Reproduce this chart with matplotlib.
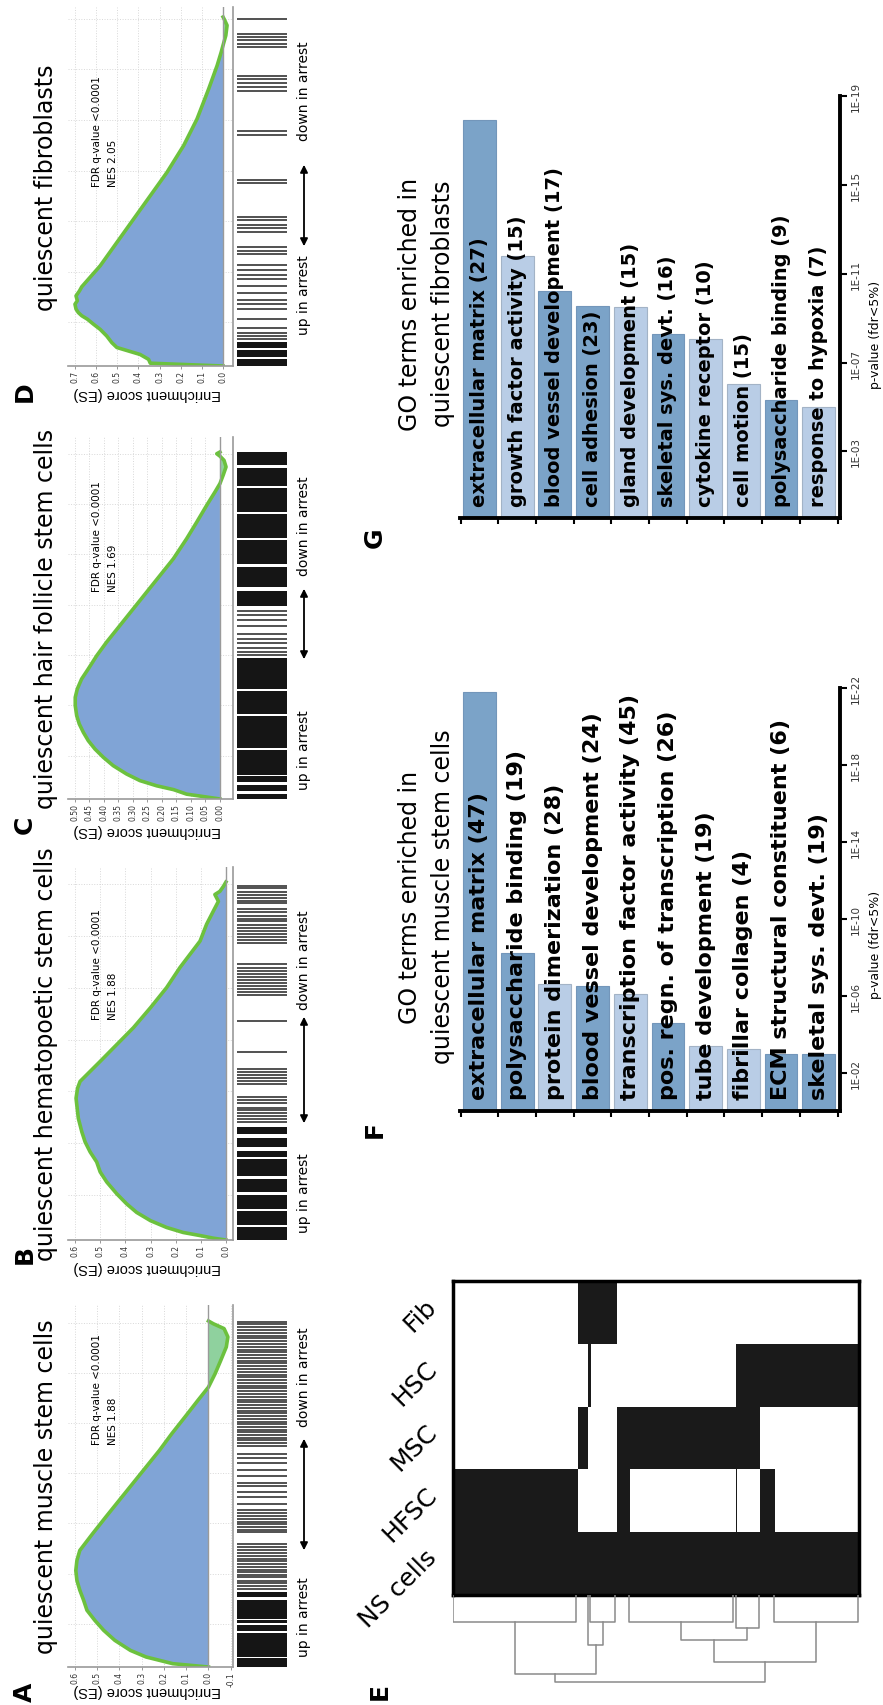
import numpy as np
import matplotlib
matplotlib.use("Agg")
import matplotlib.pyplot as plt
from matplotlib.colors import ListedColormap
from matplotlib.patches import FancyArrowPatch

plt.rcParams['font.family'] = ['DejaVu Sans']

# ---------------- data ----------------
# running enrichment score: rank position (% of ranked list) and ES
A_rank = [0, 0.96, 2.9, 4.8, 7.7, 10.6, 13.5, 16.4, 19.3, 22.2, 25.0, 27.9, 30.8, 33.7, 38.5, 43.4,
          48.2, 53.0, 57.8, 62.6, 67.4, 72.3, 77.1, 80.9, 84.8, 88.6, 92.5, 95.4, 97.8, 99.2, 100]
A_es = [0, 0.16, 0.28, 0.35, 0.42, 0.47, 0.51, 0.545, 0.56, 0.577, 0.59, 0.595, 0.59, 0.577, 0.52, 0.46,
        0.40, 0.34, 0.28, 0.22, 0.165, 0.105, 0.047, 0.0, -0.03, -0.055, -0.08, -0.087, -0.07, -0.022, 0.0]

B_rank = [0, 0.5, 1.2, 2.1, 3.5, 5.4, 7.7, 10.1, 12.9, 16.2, 19.0, 21.8, 24.6, 27.4, 30.2, 34.0, 37.7,
          39.6, 42.4, 44.3, 47.1, 49.9, 54.6, 59.3, 64.9, 70.5, 76.1, 79.8, 83.5, 88.2, 91.9, 94.6, 96.5,
          97.4, 98.8, 100]
B_es = [0, 0.05, 0.10, 0.17, 0.236, 0.30, 0.355, 0.395, 0.434, 0.474, 0.50, 0.514, 0.54, 0.56, 0.573,
        0.587, 0.593, 0.596, 0.59, 0.58, 0.54, 0.50, 0.434, 0.368, 0.30, 0.236, 0.183, 0.143, 0.103,
        0.077, 0.05, 0.03, 0.044, 0.024, 0.01, 0.0]

C_rank = [0, 0.7, 1.4, 2.7, 3.8, 5.3, 7.2, 9.6, 12.0, 14.4, 16.8, 19.2, 21.6, 24.0, 26.9, 29.3, 31.7,
          34.6, 37.5, 41.3, 45.2, 50.0, 54.8, 59.6, 64.4, 69.2, 75.0, 79.8, 84.6, 88.5, 90.9, 93.3,
          95.7, 97.6, 98.8, 99.5, 100]
C_es = [0, 0.057, 0.115, 0.16, 0.218, 0.276, 0.322, 0.368, 0.402, 0.431, 0.454, 0.471, 0.485, 0.494,
        0.499, 0.499, 0.492, 0.477, 0.454, 0.425, 0.391, 0.345, 0.299, 0.253, 0.207, 0.161, 0.115,
        0.080, 0.046, 0.017, 0.0, -0.011, -0.021, -0.014, 0.0, 0.011, 0.0]

D_rank = [0, 0.8, 1.9, 3.3, 4.3, 5.3, 6.7, 8.6, 10.5, 12.0, 13.4, 14.4, 15.3, 16.3, 17.7, 18.7, 20.1,
          21.5, 22.7, 28.7, 35.4, 42.1, 48.8, 55.5, 63.2, 70.8, 79.4, 86.1, 89.9, 91.9, 94.7, 97.6, 99.3, 100]
D_es = [0, 0.344, 0.352, 0.392, 0.447, 0.502, 0.526, 0.55, 0.581, 0.613, 0.641, 0.668, 0.684, 0.695,
        0.70, 0.689, 0.695, 0.679, 0.668, 0.581, 0.502, 0.423, 0.344, 0.265, 0.186, 0.123, 0.068,
        0.028, 0.009, 0.0, -0.013, -0.019, -0.006, 0.0]

# gene set hits (rank %): solid runs and single lines
A_blocks = [(0, 2.5), (3.0, 9.8), (10.5, 12.0), (12.6, 13.5), (14.0, 19.5), (20.2, 21.8)]
A_lines = [22.6, 23.5, 24.3, 25.0, 25.9, 26.6, 27.4, 28.1, 29.0, 29.8, 30.5, 31.3, 32.2, 33.0, 33.8,
           34.6, 35.5, 38.9, 39.7, 40.5, 41.2, 42.0, 42.9, 43.6, 44.5, 45.3, 47.0, 49.1, 50.6, 52.2,
           53.2, 55.2, 56.8, 59.0, 60.3, 61.5, 63.9, 64.7, 65.5, 66.3, 67.0, 67.8, 68.6, 69.4, 70.1,
           70.9, 71.8, 72.6, 73.4, 74.1, 74.9, 75.8, 76.6, 77.3, 78.1, 79.0, 79.8, 80.6, 81.3, 82.1,
           83.0, 83.8, 84.5, 85.3, 86.2, 87.0, 87.8, 88.5, 89.3, 90.2, 91.0, 91.7, 92.5, 93.4, 94.2,
           95.0, 95.7, 96.5, 97.4, 98.2, 99.0, 99.8]
B_blocks = [(0, 3.5), (4.2, 8.0), (8.6, 12.5), (13.5, 17.0), (18.0, 22.5), (23.2, 25.0), (26.0, 28.5),
            (29.5, 31.5)]
B_lines = [33.0, 33.8, 34.6, 35.5, 36.3, 37.0, 38.2, 39.0, 40.0, 43.5, 44.3, 45.2, 46.0, 47.0, 47.8,
           52.4, 61.3, 68.5, 69.3, 70.1, 70.9, 71.8, 72.6, 73.5, 74.3, 75.2, 76.0, 77.0, 83.0, 83.8,
           84.6, 85.5, 86.3, 87.2, 88.0, 89.0, 89.8, 90.6, 91.5, 92.4, 94.0, 94.8, 95.6, 96.5, 97.3,
           98.2, 99.0]
C_blocks = [(0, 1.5), (2.2, 4.0), (4.8, 6.5), (7.0, 14.0), (14.6, 24.0), (24.6, 31.0), (31.8, 40.5),
            (55.5, 60.0), (61.0, 67.0), (67.8, 74.5), (75.2, 82.0), (82.8, 89.5), (90.3, 95.5),
            (96.2, 100)]
C_lines = [41.5, 42.5, 43.6, 45.0, 46.2, 47.5, 49.8, 51.5, 53.0, 54.2]
D_blocks = [(0, 2.0), (2.6, 4.5), (5.2, 7.0)]
D_lines = [7.8, 8.6, 9.4, 11.0, 13.5, 16.3, 17.8, 18.8, 21.0, 23.0, 25.0, 26.0, 27.4, 28.8, 32.0, 33.0,
           34.0, 38.5, 39.5, 40.5, 41.8, 42.8, 52.4, 53.4, 66.3, 67.3, 78.8, 79.8, 81.0, 82.2, 83.2,
           91.3, 92.3, 93.3, 94.2, 95.2, 99.5]

gsea_titles = ["quiescent muscle stem cells", "quiescent hematopoetic stem cells",
               "quiescent hair follicle stem cells", "quiescent fibroblasts"]
gsea_nes = ["1.88", "1.88", "1.69", "2.05"]
A_ticks = [-0.1, 0.0, 0.1, 0.2, 0.3, 0.4, 0.5, 0.6]
B_ticks = [0.0, 0.1, 0.2, 0.3, 0.4, 0.5, 0.6]
C_ticks = [0.00, 0.05, 0.10, 0.15, 0.20, 0.25, 0.30, 0.35, 0.40, 0.45, 0.50]
D_ticks = [0.0, 0.1, 0.2, 0.3, 0.4, 0.5, 0.6, 0.7]

# heatmap (E): gene clusters (widths) and presence per sample
hm_samples = ["Fib", "HSC", "MSC", "HFSC", "NS cells"]
hm_widths = [92, 8, 2, 19, 10, 78, 1, 17, 11, 62]
hm_Fib = [0, 1, 1, 1, 0, 0, 0, 0, 0, 0]
hm_HSC = [0, 0, 1, 0, 0, 0, 1, 1, 1, 1]
hm_MSC = [0, 1, 0, 0, 1, 1, 1, 1, 0, 0]
hm_HFSC = [1, 0, 0, 0, 1, 0, 1, 0, 1, 0]
hm_NS = [1, 1, 1, 1, 1, 1, 1, 1, 1, 1]
dendro_x = [[0, 0, 91, 91], [101.6, 101.6, 120, 120], [99.9, 99.9, 110.8, 110.8],
            [45.5, 45.5, 105.4, 105.4], [130.2, 130.2, 207.1, 207.1], [208.8, 208.8, 226.1, 226.1],
            [168.6, 168.6, 217.5, 217.5], [237.2, 237.2, 299, 299], [193, 193, 268.1, 268.1],
            [75.4, 75.4, 230.6, 230.6]]
dendro_h = [[0, 27, 27, 0], [0, 27, 27, 0], [0, 49, 49, 27], [27, 78, 78, 49], [0, 27, 27, 0],
            [0, 32, 32, 0], [27, 44, 44, 32], [0, 27, 27, 0], [44, 66, 66, 27], [78, 86, 86, 66]]

# GO terms (F, G): -log10 p-value
F_terms = ["extracellular matrix (47)", "polysaccharide binding (19)", "protein dimerization (28)",
           "blood vessel development (24)", "transcription factor activity (45)",
           "pos. regn. of transcription (26)", "tube development (19)", "fibrillar collagen (4)",
           "ECM structural constituent (6)", "skeletal sys. devt. (19)"]
F_logp = [21.8, 8.2, 6.6, 6.5, 6.1, 4.6, 3.4, 3.25, 2.95, 2.95]
F_shade = ['d', 'd', 'l', 'd', 'l', 'd', 'l', 'l', 'd', 'd']
F_ticks = [2, 6, 10, 14, 18, 22]
G_terms = ["extracellular matrix (27)", "growth factor activity (15)", "blood vessel development (17)",
           "cell adhesion (23)", "gland development (15)", "skeletal sys. devt. (16)",
           "cytokine receptor (10)", "cell motion (15)", "polysaccharide binding (9)",
           "response to hypoxia (7)"]
G_logp = [17.9, 11.8, 10.2, 9.55, 9.5, 8.3, 8.05, 6.05, 5.3, 5.0]
G_shade = ['d', 'l', 'd', 'd', 'l', 'd', 'l', 'l', 'd', 'l']
G_ticks = [3, 7, 11, 15, 19]

# ---------------- figure ----------------
W, H = 883, 1706
fig = plt.figure(figsize=(W / 100, H / 100), dpi=100)

BLUE = '#80a4d6'
GREEN = '#6cc13e'
GREEN_FILL = '#8fd19e'
DARK_BAR = '#7ba3c8'
LIGHT_BAR = '#b9cde6'


def axbox(x0, y0, x1, y1):
    return fig.add_axes([x0 / W, 1 - y1 / H, (x1 - x0) / W, (y1 - y0) / H])


def ftext(x, y, s, **kw):
    return fig.text(x / W, 1 - y / H, s, **kw)


def farrow(x, y0, y1):
    a = FancyArrowPatch((x / W, 1 - y0 / H), (x / W, 1 - y1 / H), transform=fig.transFigure,
                        arrowstyle='<|-|>', mutation_scale=11, lw=1.3, color='black')
    fig.add_artist(a)


def gsea_panel(rank, es, blocks, lines, ticks, tickfmt, xlim, lay, title, nes, letter):
    top, bottom, r100 = lay['top'], lay['bottom'], lay['r100']
    rmax = 100 * (bottom - top) / (bottom - r100)
    rank = np.array(rank)
    es = np.array(es)
    ax = axbox(68, top, 233, bottom)
    ax.set_xlim(*xlim)
    ax.set_ylim(0, rmax)
    ax.fill_betweenx(rank, 0, es, where=es >= 0, interpolate=True, color=BLUE, lw=0)
    ax.fill_betweenx(rank, 0, es, where=es <= 0, interpolate=True, color=GREEN_FILL, lw=0)
    ax.plot(es, rank, color=GREEN, lw=2.6, solid_joinstyle='round')
    ax.axvline(0, color='#9a9a9a', lw=1)
    ax.set_xticks(ticks)
    ax.set_xticklabels([tickfmt.format(t) for t in ticks], rotation=90, fontsize=5.5, color='#333333')
    ax.set_yticks([12.5, 27, 41.5, 56, 70.5, 85, 99.5])
    ax.set_yticklabels([])
    ax.tick_params(axis='y', length=0)
    ax.tick_params(axis='x', length=2, width=0.6, color='#888888', pad=1)
    ax.grid(True, color='#d8d8d8', lw=0.7, ls=':')
    ax.set_axisbelow(True)
    for s in ['top', 'left']:
        ax.spines[s].set_visible(False)
    for s in ['bottom', 'right']:
        ax.spines[s].set_color('#9a9a9a')
        ax.spines[s].set_linewidth(1.2)

    bx = axbox(237, top, 287, bottom)
    bx.set_ylim(0, rmax)
    bx.set_xlim(0, 1)
    for b0, b1 in blocks:
        bx.axhspan(b0, b1, color='#151515', lw=0)
    bx.hlines(lines, 0, 1, color='#222222', lw=1.1)
    bx.axis('off')

    mid = (top + bottom) / 2
    ftext(46, mid, title, rotation=90, ha='center', va='center', fontsize=17)
    ftext(25, lay['letter_y'], letter, rotation=90, ha='center', va='center', fontsize=18,
          fontweight='bold')
    ftext(147, bottom + lay['es_lab'], 'Enrichment score (ES)', rotation=180, ha='center', va='center',
          fontsize=10.5, family=['Liberation Sans', 'DejaVu Sans'])
    ftext(97, lay['fdr_y'], 'FDR q-value <0.0001', rotation=90, ha='center', va='bottom', fontsize=7.5)
    ftext(113, lay['fdr_y'], 'NES ' + nes, rotation=90, ha='center', va='bottom', fontsize=7.5)
    ftext(304, lay['up_y'], 'up in arrest', rotation=90, ha='center', va='bottom', fontsize=10)
    ftext(304, lay['down_y'], 'down in arrest', rotation=90, ha='center', va='bottom', fontsize=10)
    farrow(304, lay['arrow'][0], lay['arrow'][1])


gsea_layout = [
    dict(top=1306, bottom=1668, r100=1322, letter_y=1692, fdr_y=1445, up_y=1657, arrow=(1554, 1437),
         down_y=1427, es_lab=23),
    dict(top=868, bottom=1241, r100=883, letter_y=1255, fdr_y=1020, up_y=1233, arrow=(1127, 1015),
         down_y=1010, es_lab=27),
    dict(top=438, bottom=800, r100=453, letter_y=825, fdr_y=592, up_y=790, arrow=(663, 587),
         down_y=576, es_lab=31),
    dict(top=8, bottom=367, r100=18, letter_y=392, fdr_y=187, up_y=335, arrow=(250, 163),
         down_y=141, es_lab=27),
]

gsea_panel(A_rank, A_es, A_blocks, A_lines, A_ticks, '{:.1f}', (0.63, -0.11), gsea_layout[0],
           gsea_titles[0], gsea_nes[0], 'A')
gsea_panel(B_rank, B_es, B_blocks, B_lines, B_ticks, '{:.1f}', (0.628, -0.028), gsea_layout[1],
           gsea_titles[1], gsea_nes[1], 'B')
gsea_panel(C_rank, C_es, C_blocks, C_lines, C_ticks, '{:.2f}', (0.524, -0.045), gsea_layout[2],
           gsea_titles[2], gsea_nes[2], 'C')
gsea_panel(D_rank, D_es, D_blocks, D_lines, D_ticks, '{:.1f}', (0.733, -0.047), gsea_layout[3],
           gsea_titles[3], gsea_nes[3], 'D')

# ---------------- E: heatmap + dendrogram ----------------
hm = np.array([hm_Fib, hm_HSC, hm_MSC, hm_HFSC, hm_NS])
xedges = np.concatenate([[0], np.cumsum(hm_widths)])
yedges = np.arange(len(hm_samples) + 1)
hx = axbox(453, 1282, 859, 1596)
hx.pcolormesh(xedges, yedges, hm, cmap=ListedColormap(['white', '#1a1a1a']), vmin=0, vmax=1)
hx.set_xlim(0, xedges[-1])
hx.set_ylim(len(hm_samples), 0)
hx.set_xticks([])
hx.set_yticks([])
for s in hx.spines.values():
    s.set_linewidth(2.5)
    s.set_color('black')

row_h = (1596 - 1282) / len(hm_samples)
for i, name in enumerate(hm_samples):
    yc = 1282 + (i + 0.5) * row_h
    ftext(438, yc - 6, name, rotation=45, rotation_mode='anchor', ha='right', va='baseline',
          fontsize=18)

dx = axbox(453, 1596, 859, 1684)
for xs, hs in zip(dendro_x, dendro_h):
    dx.plot(xs, hs, color='#8a8a8a', lw=1.1)
dx.set_xlim(0, xedges[-1])
dx.set_ylim(86.5, 0)
dx.axis('off')
ftext(380, 1692, 'E', rotation=90, ha='center', va='center', fontsize=18, fontweight='bold')


# ---------------- F, G: GO bars ----------------
def go_panel(terms, logp, shade, ticks, box, vmax, fsize, title2, title_y, plab_y, letter, letter_y):
    x0, ytop, x1, ybase = box
    ax = axbox(x0, ytop, x1, ybase)
    ax.set_ylim(0, vmax)
    ax.set_xlim(-0.515, 9.565)
    cols = [DARK_BAR if s == 'd' else LIGHT_BAR for s in shade]
    edges = ['#7396ba' if s == 'd' else '#a3b3c6' for s in shade]
    ax.bar(np.arange(len(terms)), logp, width=0.87, color=cols, edgecolor=edges, lw=0.8)
    for i, t in enumerate(terms):
        ax.annotate(t, xy=(i, 0), xytext=(0, 12), textcoords='offset pixels', rotation=90,
                    ha='center', va='bottom', fontsize=fsize, fontweight='bold', annotation_clip=False)
    ax.yaxis.tick_right()
    ax.set_yticks(ticks)
    ax.set_yticklabels(['1E-{:02d}'.format(t) for t in ticks], rotation=90, va='center',
                       fontsize=7.5, color='#333333')
    ax.tick_params(axis='y', length=5, width=1.5, pad=3)
    ax.set_xticks(np.arange(-0.5, len(terms), 1))
    ax.set_xticklabels([])
    ax.tick_params(axis='x', length=4, width=1.5)
    for s in ['top', 'left']:
        ax.spines[s].set_visible(False)
    for s in ['bottom', 'right']:
        ax.spines[s].set_linewidth(2.8)
        ax.spines[s].set_color('black')
    ftext(410, title_y, 'GO terms enriched in', rotation=90, ha='center', va='center', fontsize=17)
    ftext(443, title_y, title2, rotation=90, ha='center', va='center', fontsize=17)
    ftext(876, plab_y, 'p-value (fdr<5%)', rotation=90, ha='center', va='center', fontsize=9)
    ftext(375, letter_y, letter, rotation=90, ha='center', va='center', fontsize=18, fontweight='bold')


go_panel(F_terms, F_logp, F_shade, F_ticks, (460, 689, 840, 1112), 22, 16,
         'quiescent muscle stem cells', 897, 945, 'F', 1130)
go_panel(G_terms, G_logp, G_shade, G_ticks, (460, 97, 840, 519), 19, 14,
         'quiescent fibroblasts', 304, 335, 'G', 538)

fig.savefig('out.png', dpi=100)
